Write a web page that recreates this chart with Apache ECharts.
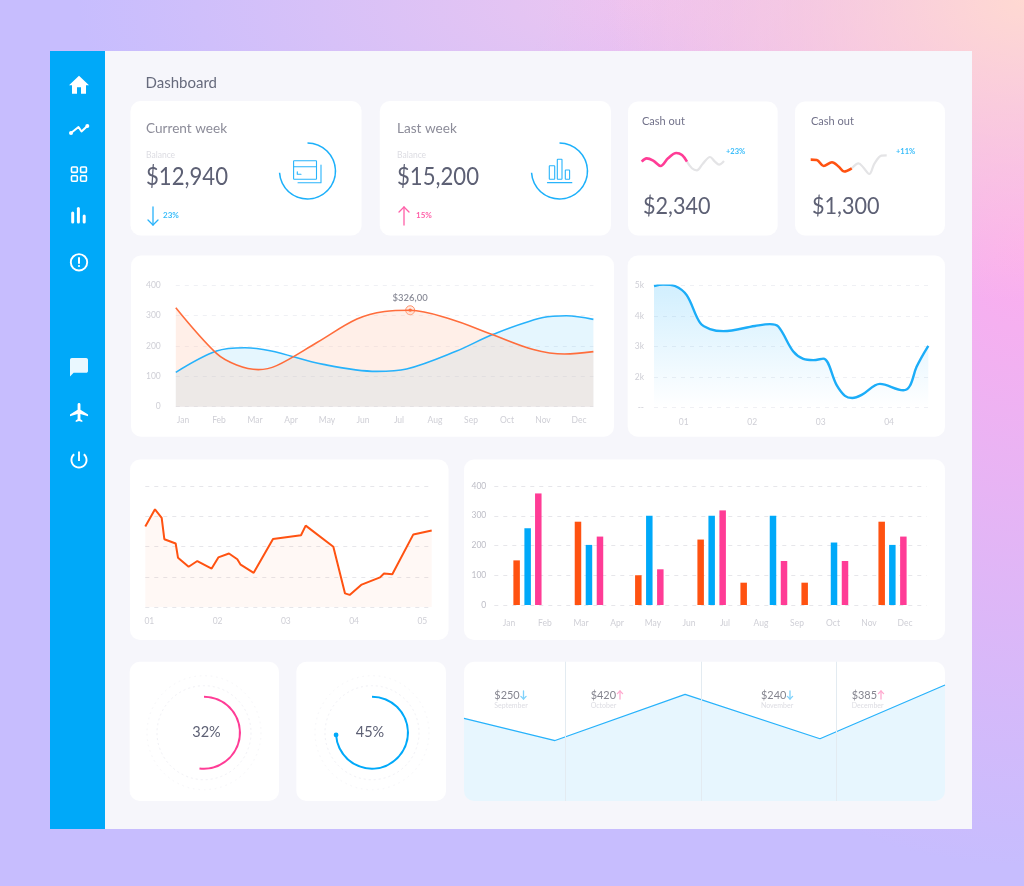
<!DOCTYPE html>
<html>
<head>
<meta charset="utf-8">
<title>Dashboard</title>
<script src="https://cdn.jsdelivr.net/npm/echarts@6/dist/echarts.min.js"></script>
<style>
html, body { margin: 0; padding: 0; width: 1024px; height: 886px; overflow: hidden; }
body {
    background:
        radial-gradient(420px 300px at 100% 0%, #ffd9d2 0%, rgba(255,217,210,0) 100%),
        radial-gradient(520px 620px at 100% 28%, #fcaeee 0%, rgba(252,174,238,0) 100%),
        radial-gradient(560px 240px at 62% 0%, #ecc6f0 0%, rgba(236,198,240,0) 100%),
        #c7bdfe;
}
#chart { width: 1024px; height: 886px; }
</style>
</head>
<body>
<div id="chart"></div>
<script>
var FONT = 'Lato';
var DARK = '#5d6074', GREY = '#cfcfd6', PALE = '#dcdce2';
var ORANGE = '#ff5211', BLUE = '#00a9f9', PINK = '#ff3c96', SKY = '#27b2fb';
var SMOOTH = 0.35;

var months = ['Jan', 'Feb', 'Mar', 'Apr', 'May', 'Jun', 'Jul', 'Aug', 'Sep', 'Oct', 'Nov', 'Dec'];
var monthPos = [0, 1, 2, 3, 4, 5, 6, 7, 8, 9, 10, 11];
var periodPos2 = [1, 2, 3, 4];
var periodPos3 = [1, 2, 3, 4, 5];

// top left chart, two smooth curves
var curveOrangeX = [-0.2, 0.93, 1.49, 2.09, 2.6, 3.71, 4.83, 5.6, 6.31, 7.42, 8.57, 9.73, 10.6, 11.4];
var curveOrangeY = [325, 175, 137, 122, 135, 210, 288, 313, 317, 288, 238, 188, 173, 181];
var curveBlueX = [-0.2, 0.93, 1.72, 2.42, 3.9, 5.38, 6.21, 7.6, 8.62, 10, 10.65, 11.4];
var curveBlueY = [113, 183, 194, 184, 139, 116, 124, 183, 238, 293, 299, 287];
var peakPoint = [6.31, 317];
var peakLabel = '$326,00';

// top right chart, 1k to 5k
var balanceX = [0.567, 0.703, 0.873, 1.044, 1.238, 1.384, 1.579, 2.041, 2.26, 2.382, 2.601, 2.747, 2.893, 3.039, 3.234, 3.355, 3.462, 3.599, 3.866, 4.207, 4.304, 4.401, 4.572];
var balanceY = [4.99, 5.04, 4.99, 4.69, 3.79, 3.58, 3.51, 3.68, 3.74, 3.66, 2.84, 2.6, 2.56, 2.61, 1.74, 1.39, 1.32, 1.42, 1.78, 1.57, 1.72, 2.34, 3.03];

// middle left chart, jagged line
var jaggedX = [0.941, 1.083, 1.181, 1.22, 1.386, 1.42, 1.576, 1.703, 1.913, 2.011, 2.167, 2.289, 2.338, 2.529, 2.812, 3.222, 3.291, 3.696, 3.867, 3.935, 4.111, 4.38, 4.438, 4.56, 4.868, 5.137];
var jaggedY = [2.66, 3.23, 2.95, 2.24, 2.1, 1.63, 1.33, 1.52, 1.27, 1.64, 1.77, 1.58, 1.4, 1.13, 2.25, 2.37, 2.69, 1.99, 0.45, 0.4, 0.74, 0.98, 1.11, 1.08, 2.4, 2.53];

// bars, the x position is in months because the bars do not sit on the labels
var barOrangeX = [0.213, 1.917, 3.593, 5.324, 6.519, 8.213, 10.352];
var barOrangeY = [150, 280, 100, 220, 75, 75, 280];
var barBlueX = [0.519, 2.222, 3.898, 5.63, 7.333, 9.028, 10.648];
var barBlueY = [258, 202, 300, 300, 300, 210, 202];
var barPinkX = [0.815, 2.528, 4.204, 5.935, 7.639, 9.333, 10.954];
var barPinkY = [375, 230, 120, 318, 148, 148, 230];

// bottom right zigzag
var zigzagX = [0, 0.673, 1.634, 2.631, 3.555];
var zigzagY = [283, 207, 365, 213, 397];
var zigzagDividers = [0.754, 1.754, 2.754];

// sparklines of the cash out cards
var spark1X = [0, 6, 14, 23, 32, 42, 49, 55];
var spark1Y = [50, 69, 56, 25, 69, 100, 88, 50];
var spark1RestX = [55, 61, 67, 74, 83, 89, 94, 100];
var spark1RestY = [50, 12, 0, 37, 77, 50, 33, 54];
var spark2X = [0, 8, 17, 28, 37, 44, 54];
var spark2Y = [77, 75, 43, 63, 39, 13, 30];
var spark2RestX = [54, 63, 69, 77, 84, 93, 100];
var spark2RestY = [30, 57, 36, 0, 57, 98, 100];

// the drawn arc is longer than the printed percent in the picture
var gaugeLabels = ['32%', '45%'];
var gaugeArcs = [52, 74];
var weekArcs = [74, 74];

function zip(xs, ys) {
    return xs.map(function (x, i) { return [x, ys[i]]; });
}
function pad(v) { return '0' + v; }

// ---- axes ----
var grids = [], xAxes = [], yAxes = [], series = [];

var dashFaint = { show: true, lineStyle: { color: '#eff0f4', type: [4, 5], width: 1 } };
var dashStrong = { show: true, lineStyle: { color: '#e6e6ea', type: [4, 5], width: 1 } };

// adds one grid with its two axes and returns its index
function addGrid(box, xOpt, yOpt) {
    var i = grids.length;
    grids.push({ left: box[0], top: box[1], width: box[2], height: box[3], containLabel: false });
    xAxes.push(Object.assign({
        gridIndex: i, type: 'value', axisLine: { show: false }, axisTick: { show: false },
        splitLine: { show: false }, axisLabel: { show: false }
    }, xOpt));
    yAxes.push(Object.assign({
        gridIndex: i, type: 'value', axisLine: { show: false }, axisTick: { show: false },
        splitLine: { show: false }, axisLabel: { show: false }
    }, yOpt));
    return i;
}

function lineSeries(g, data, color, width, extra) {
    return Object.assign({
        type: 'line', xAxisIndex: g, yAxisIndex: g, data: data, symbol: 'none', silent: true,
        lineStyle: { color: color, width: width }
    }, extra);
}

// top left
var g1 = addGrid([175.8, 285, 417.6, 121.7], {
    min: -0.2, max: 11.4,
    axisLabel: {
        show: true, customValues: monthPos, margin: 9,
        formatter: function (v) { return months[v]; },
        color: GREY, fontSize: 8.5, fontFamily: FONT
    }
}, {
    min: 0, max: 400, interval: 100, splitLine: dashFaint,
    axisLabel: { show: true, margin: 15, color: GREY, fontSize: 8.5, fontFamily: FONT }
});
series.push(lineSeries(g1, zip(curveBlueX, curveBlueY), SKY, 1.6, {
    smooth: SMOOTH, areaStyle: { color: 'rgba(0,170,250,0.1)', opacity: 1 }
}));
series.push(lineSeries(g1, zip(curveOrangeX, curveOrangeY), '#ff6d3c', 1.6, {
    smooth: SMOOTH, areaStyle: { color: 'rgba(255,202,178,0.3)', opacity: 1 }
}));
series.push({
    type: 'scatter', xAxisIndex: g1, yAxisIndex: g1, data: [peakPoint], silent: true, symbolSize: 9,
    itemStyle: { color: '#ffe6dc', borderColor: '#ff7a4c', borderWidth: 1 },
    label: {
        show: true, position: 'top', distance: 2.5, formatter: peakLabel,
        color: '#6e7080', fontSize: 9.5, fontWeight: 600, fontFamily: FONT
    }
});
series.push({
    type: 'scatter', xAxisIndex: g1, yAxisIndex: g1, data: [peakPoint], silent: true, symbolSize: 3.5,
    itemStyle: { color: ORANGE }
});

// top right
var g2 = addGrid([654, 285.7, 274.3, 122], {
    min: 0.567, max: 4.572,
    axisLabel: {
        show: true, customValues: periodPos2, margin: 10, formatter: pad,
        color: GREY, fontSize: 8.5, fontFamily: FONT
    }
}, {
    min: 1, max: 5, interval: 1, splitLine: dashFaint,
    axisLabel: {
        show: true, margin: 10, color: GREY, fontSize: 8.5, fontFamily: FONT,
        formatter: function (v) { return v === 1 ? '--' : v + 'k'; }
    }
});
series.push(lineSeries(g2, zip(balanceX, balanceY), '#1cadf8', 2.4, {
    smooth: SMOOTH,
    areaStyle: {
        origin: 'start', opacity: 1,
        color: new echarts.graphic.LinearGradient(0, 0, 0, 1, [
            { offset: 0, color: 'rgba(0,165,250,0.18)' },
            { offset: 1, color: 'rgba(0,165,250,0)' }
        ])
    }
}));

// middle left
var g3 = addGrid([145.3, 486, 286.4, 121], {
    min: 0.941, max: 5.137,
    axisLabel: {
        show: true, customValues: periodPos3, margin: 10, formatter: pad,
        color: GREY, fontSize: 8.5, fontFamily: FONT
    }
}, { min: 0, max: 4, interval: 1, splitLine: dashStrong });
series.push(lineSeries(g3, zip(jaggedX, jaggedY), ORANGE, 2, {
    areaStyle: { color: 'rgba(255,120,70,0.055)', opacity: 1 }
}));

// middle right
var g4 = addGrid([494.3, 486, 432.4, 119], {
    min: -0.407, max: 11.602,
    axisLabel: {
        show: true, customValues: monthPos, margin: 14,
        formatter: function (v) { return months[v]; },
        color: GREY, fontSize: 8.5, fontFamily: FONT
    }
}, {
    min: 0, max: 400, interval: 100, splitLine: dashStrong,
    axisLabel: { show: true, margin: 8, color: '#bdbdc6', fontSize: 8.5, fontFamily: FONT }
});
[[barOrangeX, barOrangeY, ORANGE], [barBlueX, barBlueY, BLUE], [barPinkX, barPinkY, PINK]].forEach(function (b) {
    series.push({
        type: 'bar', xAxisIndex: g4, yAxisIndex: g4, data: zip(b[0], b[1]), silent: true,
        barWidth: 6.5, barGap: '-100%', itemStyle: { color: b[2] }
    });
});

// bottom right
var g5 = addGrid([464, 661.7, 481, 139.3], { min: 0, max: 3.555 }, { min: 0, max: 477 });
series.push(lineSeries(g5, zip(zigzagX, zigzagY), SKY, 1.2, {
    areaStyle: { color: '#e7f6fe', opacity: 1 },
    markLine: {
        silent: true, symbol: 'none', label: { show: false },
        lineStyle: { color: '#e3ebf1', type: 'solid', width: 1 },
        data: zigzagDividers.map(function (v) { return { xAxis: v }; })
    }
}));

// sparklines
var g6 = addGrid([641.7, 153, 82.3, 17.3], { min: 0, max: 100 }, { min: 0, max: 100 });
series.push(lineSeries(g6, zip(spark1RestX, spark1RestY), '#e4e4e6', 2.2, { smooth: SMOOTH, clip: false }));
series.push(lineSeries(g6, zip(spark1X, spark1Y), PINK, 2.6, { smooth: SMOOTH, clip: false }));
var g7 = addGrid([810.7, 155.3, 76, 18.7], { min: 0, max: 100 }, { min: 0, max: 100 });
series.push(lineSeries(g7, zip(spark2RestX, spark2RestY), '#e4e4e6', 2.2, { smooth: SMOOTH, clip: false }));
series.push(lineSeries(g7, zip(spark2X, spark2Y), ORANGE, 2.6, { smooth: SMOOTH, clip: false }));

// ---- rings ----
function ring(center, r, w, arc, color, label, shift) {
    return {
        type: 'pie', center: center, radius: [r - w / 2, r + w / 2], startAngle: 90, clockwise: true,
        silent: true, animation: false, labelLine: { show: false },
        label: { show: false },
        data: [
            {
                value: arc, itemStyle: { color: color },
                label: label ? {
                    show: true, position: 'center', formatter: label, offset: [shift, 0],
                    color: DARK, fontSize: 14.5, fontFamily: FONT
                } : { show: false }
            },
            { value: 100 - arc, itemStyle: { color: 'rgba(0,0,0,0)' } }
        ]
    };
}
var gaugeCenters = [[204, 732.7], [372, 732.7]];
series.push(ring([307.5, 171], 28, 1.5, weekArcs[0], '#1cb0fa'));
series.push(ring([559.5, 171], 28, 1.5, weekArcs[1], '#1cb0fa'));
series.push(ring(gaugeCenters[0], 36, 2, gaugeArcs[0], PINK, gaugeLabels[0], 2.5));
series.push(ring(gaugeCenters[1], 36, 2, gaugeArcs[1], BLUE, gaugeLabels[1], -2));

// ---- panels, texts and icons ----
var gfx = [];

function card(x0, y0, x1, y1) {
    gfx.push({
        type: 'rect', z: -10, silent: true,
        shape: { x: x0, y: y0, width: x1 - x0, height: y1 - y0, r: 10 },
        style: { fill: '#fff' }
    });
}
function text(x, y, str, size, color, weight, squeeze) {
    gfx.push({
        type: 'text', z: 60, silent: true, x: x, y: y, scaleX: squeeze || 1,
        style: {
            text: str, fontSize: size, fill: color, fontFamily: FONT, fontWeight: weight || 400,
            align: 'left', verticalAlign: 'middle'
        }
    });
}
function stroke(points, color, width) {
    gfx.push({
        type: 'polyline', z: 60, silent: true, shape: { points: points },
        style: { stroke: color, lineWidth: width, fill: null, lineCap: 'round', lineJoin: 'round' }
    });
}
function arrow(x, y0, y1, head, color, width) {
    var dir = y1 > y0 ? -1 : 1; // head points toward y1
    stroke([[x, y0], [x, y1]], color, width);
    stroke([[x - head, y1 + dir * head], [x, y1], [x + head, y1 + dir * head]], color, width);
}
function outline(x, y, w, h, r, color, width) {
    gfx.push({
        type: 'rect', z: 60, silent: true, shape: { x: x, y: y, width: w, height: h, r: r },
        style: { stroke: color, lineWidth: width, fill: null }
    });
}
// svg paths have to be registered before the graphic component can use them
function icon(name, path, x, y, sx, sy, fill, z) {
    echarts.graphic.registerShape(name, echarts.graphic.extendPath(path, {}));
    gfx.push({
        type: name, z: z || 60, silent: true, x: x, y: y, scaleX: sx, scaleY: sy, shape: {},
        style: { fill: fill || '#fff' }
    });
}
function dot(cx, cy, r, color) {
    gfx.push({ type: 'circle', z: 60, silent: true, shape: { cx: cx, cy: cy, r: r }, style: { fill: color } });
}

// window
gfx.push({ type: 'rect', z: -20, silent: true, shape: { x: 50, y: 51, width: 922, height: 778 }, style: { fill: '#f6f6fb' } });
gfx.push({ type: 'rect', z: -15, silent: true, shape: { x: 50, y: 51, width: 55, height: 778 }, style: { fill: BLUE } });

card(130.5, 101, 361.6, 235.5);
card(379.8, 101, 611, 235.5);
card(628, 101.5, 777.7, 235.5);
card(795, 101.5, 945, 235.5);
card(131, 255.5, 614, 436.7);
card(627.7, 255.5, 945, 436.7);
card(130, 459.5, 448.5, 640);
card(464, 459.5, 945, 640);
card(129.7, 661.7, 279, 801);
card(296.3, 661.7, 446, 801);
card(464, 661.7, 945, 801);

// the area of the zigzag stops at the rounded corners of its card
icon('cornerLeft', 'M464 791L464 801.5L474 801.5L474 801A10 10 0 0 1 464 791Z', 0, 0, 1, 1, '#f6f6fb', 50);
icon('cornerRight', 'M945 791L945 801.5L935 801.5L935 801A10 10 0 0 0 945 791Z', 0, 0, 1, 1, '#f6f6fb', 50);

text(145.5, 83.5, 'Dashboard', 15, '#666a7c');

text(146, 129, 'Current week', 13.6, '#8c8c99');
text(146, 155.5, 'Balance', 8.5, PALE);
text(146, 177, '$12,940', 25, DARK, 400, 0.885);
arrow(153, 207, 225, 5, SKY, 1.3);
text(163, 215, '23%', 8, '#37bcfa', 700);

text(397, 129, 'Last week', 13.6, '#8c8c99');
text(397, 155.5, 'Balance', 8.5, PALE);
text(397, 177, '$15,200', 25, DARK, 400, 0.885);
arrow(404, 225, 207, 5, '#ff5fa8', 1.3);
text(416, 215, '15%', 8, '#ff5fa8', 700);

text(642, 121.5, 'Cash out', 11, '#72728a');
text(643, 206, '$2,340', 23.5, DARK, 400, 0.92);
text(726, 151.5, '+23%', 7.5, '#37bcfa', 700);
text(811, 121.5, 'Cash out', 11, '#72728a');
text(812, 206, '$1,300', 23.5, DARK, 400, 0.92);
text(896, 151.5, '+11%', 7.5, '#37bcfa', 700);

// bottom right captions
text(494.3, 695, '$250', 11.5, '#85858f', 400, 0.95);
text(590.7, 695, '$420', 11.5, '#85858f', 400, 0.95);
text(761, 695, '$240', 11.5, '#85858f', 400, 0.95);
text(851.7, 695, '$385', 11.5, '#85858f', 400, 0.95);
text(494.3, 705.8, 'September', 7, PALE);
text(590.7, 705.8, 'October', 7, PALE);
text(761, 705.8, 'November', 7, PALE);
text(851.7, 705.8, 'December', 7, PALE);
arrow(523.5, 691, 699, 2.6, '#7fd2fb', 1.3);
arrow(620, 699, 691, 2.6, '#ffa9cf', 1.3);
arrow(790, 691, 699, 2.6, '#7fd2fb', 1.3);
arrow(881, 699, 691, 2.6, '#ffa9cf', 1.3);

// dotted circles behind the gauges
gaugeCenters.forEach(function (c) {
    [[47, '#f1f1f6', [2, 3]], [57, '#f6f6f9', [1.5, 4]]].forEach(function (o) {
        gfx.push({
            type: 'circle', z: -5, silent: true, shape: { cx: c[0], cy: c[1], r: o[0] },
            style: { stroke: o[1], lineWidth: 1, lineDash: o[2], fill: null }
        });
    });
});
// knob on the end of the blue arc
var knobAngle = gaugeArcs[1] / 100 * 2 * Math.PI;
dot(gaugeCenters[1][0] + 36 * Math.sin(knobAngle), gaugeCenters[1][1] - 36 * Math.cos(knobAngle), 2.4, BLUE);

// card icons
var IC = '#29b4fb';
outline(293.6, 160.7, 22.9, 18.6, 0.5, IC, 1.1);
stroke([[293.6, 166.7], [316.5, 166.7]], IC, 1.1);
stroke([[321, 165], [321, 182.7], [298, 182.7]], IC, 1.1);
stroke([[297.3, 171.7], [297.3, 174.3], [301, 174.3]], IC, 1.1);
outline(549.3, 165.7, 5.4, 13.6, 0.5, IC, 1.1);
outline(557.3, 159.3, 4.7, 20, 0.5, IC, 1.1);
outline(565.3, 170, 4.3, 9.3, 0.5, IC, 1.1);
stroke([[547.5, 182.7], [571.8, 182.7]], IC, 1.2);

// sidebar icons
icon('navHome', 'M10 20v-6h4v6h5v-8h3L12 3 2 12h3v8z', 67, 72.5, 1, 1.06);
stroke([[71, 133], [78.5, 127], [81.5, 131.5], [87.3, 126]], '#fff', 2);
dot(71, 133, 2, '#fff');
dot(87.3, 126, 2, '#fff');
outline(71.5, 167, 5.8, 5.4, 1, '#fff', 1.6);
outline(80.6, 167, 5.8, 5.4, 1, '#fff', 1.6);
outline(71.5, 175.8, 5.8, 5.4, 1, '#fff', 1.6);
outline(80.6, 175.8, 5.8, 5.4, 1, '#fff', 1.6);
stroke([[72.7, 213], [72.7, 222]], '#fff', 3);
stroke([[78.4, 208.5], [78.4, 222]], '#fff', 3);
stroke([[84.2, 216], [84.2, 222]], '#fff', 3);
gfx.push({ type: 'circle', z: 60, silent: true, shape: { cx: 79, cy: 262.3, r: 8.2 }, style: { stroke: '#fff', lineWidth: 1.9, fill: null } });
stroke([[79, 258], [79, 263]], '#fff', 2);
dot(79, 266, 1.1, '#fff');
icon('navChat', 'M20 2H4c-1.1 0-2 .9-2 2v18l4-4h14c1.1 0 2-.9 2-2V4c0-1.1-.9-2-2-2z', 68.2, 356.15, 0.9, 0.925, '#eaf8ff');
icon('navPlane', 'M21 16v-2l-8-5V3.5c0-.83-.67-1.5-1.5-1.5S10 2.67 10 3.5V9l-8 5v2l8-2.5V19l-2 1.5V22l3.5-1 3.5 1v-1.5L13 19v-5.5l8 2.5z', 68.1, 401.1, 0.95, 0.95);
icon('navPower', 'M13 3h-2v10h2V3zm4.83 2.17l-1.42 1.42C17.99 7.86 19 9.81 19 12c0 3.87-3.13 7-7 7s-7-3.13-7-7c0-2.19 1.01-4.14 2.58-5.42L6.17 5.17C4.23 6.82 3 9.26 3 12c0 4.97 4.03 9 9 9s9-4.03 9-9c0-2.74-1.23-5.18-3.17-6.83z', 67.67, 448.67, 0.944, 0.944);

var myChart = echarts.init(document.getElementById('chart'), null, { renderer: 'canvas' });
myChart.setOption({
    animation: false,
    backgroundColor: 'transparent',
    textStyle: { fontFamily: FONT },
    grid: grids,
    xAxis: xAxes,
    yAxis: yAxes,
    series: series,
    graphic: { elements: gfx }
});
</script>
</body>
</html>
